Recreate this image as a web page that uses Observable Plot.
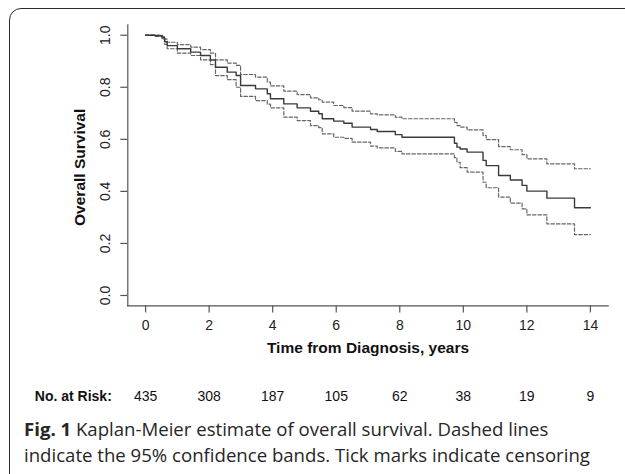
<!DOCTYPE html>
<html><head><meta charset="utf-8">
<script src="https://cdn.jsdelivr.net/npm/d3@7"></script>
<script src="https://cdn.jsdelivr.net/npm/@observablehq/plot@0.6"></script>
<style>
html,body{margin:0;padding:0;background:#fff;width:625px;height:474px;overflow:hidden;}
#frame{position:absolute;left:9px;top:8px;width:700px;height:600px;border:1.6px solid #2b2b2b;border-radius:12px;box-sizing:border-box;}
#chart{position:absolute;left:0;top:0;}
.cap{position:absolute;left:24px;font-family:"Open Sans",sans-serif;font-size:18.6px;line-height:18px;color:#262626;white-space:nowrap;}
</style></head><body>
<div id="frame"></div>
<div id="chart"></div>
<div class="cap" id="cap1" style="top:420px"><b>Fig. 1</b> Kaplan-Meier estimate of overall survival. Dashed lines</div>
<div class="cap" id="cap2" style="top:446px">indicate the 95% confidence bands. Tick marks indicate censoring</div>
<script>
const times    = [0, 0.3, 0.52, 0.6, 0.68, 1.0, 1.42, 1.73, 2.04, 2.2, 2.57, 2.85, 2.99, 3.46, 3.83, 3.93, 4.35, 4.77, 5.19, 5.45, 5.56, 5.92, 6.24, 6.5, 7.08, 7.29, 7.86, 8.07, 9.72, 9.8, 9.9, 10.12, 10.62, 10.72, 11.11, 11.48, 11.85, 12.0, 12.63, 13.5, 14.0];
const survival = [1.0, 0.998, 0.99, 0.975, 0.96, 0.948, 0.935, 0.922, 0.905, 0.877, 0.858, 0.845, 0.807, 0.794, 0.775, 0.756, 0.736, 0.721, 0.708, 0.698, 0.679, 0.670, 0.662, 0.647, 0.638, 0.630, 0.618, 0.608, 0.585, 0.570, 0.563, 0.551, 0.519, 0.499, 0.461, 0.444, 0.423, 0.401, 0.374, 0.337, 0.337];
const upper    = [1.0, 1.0, 0.995, 0.985, 0.973, 0.964, 0.954, 0.945, 0.931, 0.905, 0.893, 0.884, 0.849, 0.839, 0.820, 0.805, 0.785, 0.772, 0.759, 0.752, 0.743, 0.730, 0.722, 0.708, 0.698, 0.694, 0.685, 0.679, 0.665, 0.653, 0.647, 0.636, 0.615, 0.599, 0.572, 0.560, 0.541, 0.525, 0.506, 0.487, 0.487];
const lower    = [1.0, 0.995, 0.985, 0.965, 0.948, 0.931, 0.922, 0.905, 0.887, 0.845, 0.829, 0.800, 0.765, 0.749, 0.735, 0.721, 0.685, 0.672, 0.653, 0.645, 0.621, 0.608, 0.604, 0.589, 0.574, 0.567, 0.554, 0.544, 0.530, 0.512, 0.491, 0.474, 0.435, 0.414, 0.378, 0.355, 0.333, 0.310, 0.275, 0.234, 0.234];
const xTicks = [0, 2, 4, 6, 8, 10, 12, 14];
const yTicks = [0, 0.2, 0.4, 0.6, 0.8, 1.0];
const atRisk = [435, 308, 187, 105, 62, 38, 19, 9];
const xDomain = [-0.56, 14.56];
const yDomain = [-0.04, 1.04];
const xTitle = "Time from Diagnosis, years";
const yTitle = "Overall Survival";
const riskLabel = "No. at Risk:";

const data = times.map((t, i) => ({t, s: survival[i], u: upper[i], l: lower[i]}));
const risk = xTicks.map((t, i) => ({t, n: atRisk[i]}));

const H = 412, bottomY = 305.4;
const chart = Plot.plot({
  width: 625, height: H,
  marginLeft: 127.3, marginRight: 17.3, marginTop: 24.3, marginBottom: H - bottomY,
  x: {domain: xDomain},
  y: {domain: yDomain},
  style: {fontFamily: '"Liberation Sans", Arial, sans-serif', fontSize: "14px", color: "#222", background: "transparent", overflow: "visible"},
  marks: [
    Plot.frame({anchor: "left", stroke: "#555", strokeWidth: 1.2}),
    Plot.frame({anchor: "bottom", stroke: "#555", strokeWidth: 1.2}),
    Plot.axisX({ticks: xTicks, tickSize: 7, tickPadding: 7, label: null, stroke: "#555", strokeWidth: 1.2, fill: "#222"}),
    Plot.axisY({ticks: yTicks, tickSize: 7, tickFormat: () => "", label: null, stroke: "#555", strokeWidth: 1.2}),
    Plot.text(yTicks, {y: d => d, text: d => d.toFixed(1), frameAnchor: "left", textAnchor: "middle", dx: -22, rotate: -90, fill: "#222"}),
    Plot.text([yTitle], {text: d => d, frameAnchor: "left", textAnchor: "middle", dx: -48, dy: 2, rotate: -90, fontWeight: "bold", fontSize: 15.5, fill: "#111"}),
    Plot.text([xTitle], {text: d => d, frameAnchor: "bottom", dy: 46.6, fontWeight: "bold", fontSize: 15.5, fill: "#111"}),
    Plot.line(data, {x: "t", y: "u", curve: "step-after", stroke: "#666", strokeWidth: 1.2, strokeDasharray: "3.5,2"}),
    Plot.line(data, {x: "t", y: "l", curve: "step-after", stroke: "#666", strokeWidth: 1.2, strokeDasharray: "3.5,2"}),
    Plot.line(data, {x: "t", y: "s", curve: "step-after", stroke: "#3a3a3a", strokeWidth: 1.4}),
    Plot.text(risk, {x: "t", text: d => String(d.n), frameAnchor: "bottom", dy: 94.6, fill: "#111"}),
    Plot.text([riskLabel], {text: d => d, frameAnchor: "bottom-left", textAnchor: "start", dx: -93, dy: 94.6, fontWeight: "bold", fill: "#111"})
  ]
});
document.getElementById("chart").appendChild(chart);
</script>
</body></html>
